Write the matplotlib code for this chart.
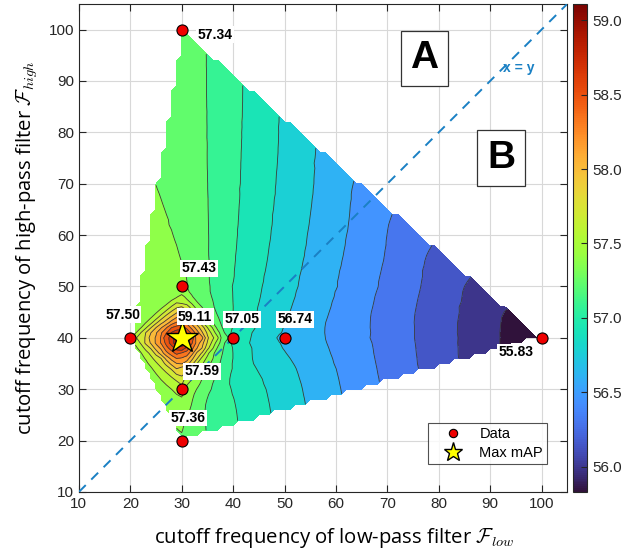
import numpy as np
import matplotlib
matplotlib.use('Agg')
import matplotlib.pyplot as plt
import matplotlib.tri as mtri
from matplotlib.lines import Line2D
from matplotlib.cm import ScalarMappable
from matplotlib.colors import Normalize

plt.rcParams['font.family'] = ['Liberation Sans', 'DejaVu Sans']
plt.rcParams['mathtext.fontset'] = 'cm'

# Data
f_low = [30, 30, 20, 30, 40, 50, 30, 30, 100]
f_high = [100, 50, 40, 40, 40, 40, 30, 20, 40]
mAP = [57.34, 57.43, 57.50, 59.11, 57.05, 56.74, 57.59, 57.36, 55.83]
value_labels = ['57.34', '57.43', '57.50', '59.11', '57.05', '56.74', '57.59', '57.36', '55.83']
label_offsets = [(3, -1, 'left'), (0, 3.5, 'left'), (-1.5, 4.5, 'center'), (2.6, 4.1, 'center'),
                 (1.8, 3.6, 'center'), (2.0, 3.6, 'center'), (0.5, 3.5, 'left'), (1.2, 4.4, 'center'),
                 (-5, -2.8, 'center')]
ticks = [10, 20, 30, 40, 50, 60, 70, 80, 90, 100]
cbar_ticks = [56.0, 56.5, 57.0, 57.5, 58.0, 58.5, 59.0]

x = np.array(f_low, float)
y = np.array(f_high, float)
z = np.array(mAP, float)


def natural_neighbour(qx, qy, px, py, pz, h=0.8, lo=-25.0, hi=155.0):
    """Discrete Sibson (natural-neighbour) interpolation of scattered data."""
    r = np.arange(lo, hi, h) + h / 2
    RX, RY = np.meshgrid(r, r)
    RX = RX.ravel()
    RY = RY.ravel()
    d2 = (RX[:, None] - px[None, :]) ** 2 + (RY[:, None] - py[None, :]) ** 2
    nearest = d2.argmin(1)
    dmin2 = d2.min(1)
    zr = pz[nearest]
    out = np.full(len(qx), np.nan)
    step = 80
    for i in range(0, len(qx), step):
        cx = qx[i:i + step, None]
        cy = qy[i:i + step, None]
        D2 = (cx - RX[None, :]) ** 2 + (cy - RY[None, :]) ** 2
        M = D2 <= dmin2[None, :]
        cnt = M.sum(1)
        out[i:i + step] = (M @ zr) / np.maximum(cnt, 1)
    return out


fig = plt.figure(figsize=(6.36, 5.54), dpi=100)
ax = fig.add_axes([0.124, 0.112, 0.768, 0.881])
cax = fig.add_axes([0.901, 0.112, 0.022, 0.881])

tri = mtri.Triangulation(x, y)
finder = tri.get_trifinder()
gx = np.linspace(x.min(), x.max(), 81)
gy = np.linspace(y.min(), y.max(), 81)
GX, GY = np.meshgrid(gx, gy)
inside = finder(GX, GY) >= 0
GZ = np.full(GX.shape, np.nan)
GZ[inside] = natural_neighbour(GX[inside], GY[inside], x, y, z)
GZ = np.ma.masked_invalid(GZ)

vmin, vmax = z.min(), z.max()
levels = np.linspace(vmin, vmax, 22)
norm = Normalize(vmin, vmax)
cmap = plt.get_cmap('turbo')
band_colors = [cmap(norm(l)) for l in levels[:-1]]
ax.contourf(GX, GY, GZ, levels=levels, colors=band_colors)
ax.contour(GX, GY, GZ, levels=levels, colors='#3a3a3a', linewidths=0.6)

ax.plot([10, 105], [10, 105], ls=(0, (5, 4)), color='#1a80c4', lw=1.4, zorder=3)
ax.text(95.6, 92.6, 'x = y', color='#1a80c4', fontsize=10, fontweight='bold', ha='center', va='center')

ax.plot(x, y, 'o', ms=8, mfc='#ee0000', mec='black', mew=0.8, zorder=5, ls='none')
imax = int(np.argmax(z))
ax.plot(x[imax], y[imax], '*', ms=24, mfc='#ffff00', mec='black', mew=1.0, zorder=6)

for xi, yi, lab, (dx, dy, ha) in zip(x, y, value_labels, label_offsets):
    ax.text(xi + dx, yi + dy, lab, fontsize=10, fontweight='bold', ha=ha, va='center',
            bbox=dict(facecolor='white', edgecolor='none', pad=1.0), zorder=7)

for lab, cx, cy in [('A', 77.2, 94.4), ('B', 92.1, 75.0)]:
    ax.text(cx, cy, lab, fontsize=28, fontweight='bold', ha='center', va='center',
            bbox=dict(facecolor='white', edgecolor='#333333', linewidth=0.9, boxstyle='square,pad=0.25'))

ax.set_xlim(10, 105)
ax.set_ylim(10, 105)
ax.set_xticks(ticks)
ax.set_yticks(ticks)
ax.tick_params(direction='in', top=True, right=True, labelsize=11, colors='#262626', length=5)
ax.grid(True, color='#d8d8d8', lw=0.8)
ax.set_axisbelow(True)
for s in ax.spines.values():
    s.set_color('#262626')

ax.set_xlabel(r'cutoff frequency of low-pass filter $\mathcal{F}_{low}$', fontsize=14.6,
              family=['Open Sans', 'DejaVu Sans'], labelpad=11)
ax.xaxis.label.set_x(0.522)
ax.set_ylabel(r'cutoff frequency of high-pass filter $\mathcal{F}_{high}$', fontsize=14.6,
              family=['Open Sans', 'DejaVu Sans'], labelpad=6)

handles = [Line2D([], [], marker='o', ls='none', ms=6, mfc='#ee0000', mec='black', mew=0.8),
           Line2D([], [], marker='*', ls='none', ms=14, mfc='#ffff00', mec='black', mew=1.0)]
leg = ax.legend(handles, ['Data', 'Max mAP'], loc='lower right', bbox_to_anchor=(0.959, 0.057),
                borderaxespad=0, fontsize=10.5, frameon=True, fancybox=False, edgecolor='#262626',
                handletextpad=0.4, borderpad=0.3, labelspacing=0.3, handlelength=2.8)
leg.get_frame().set_linewidth(0.8)

sm = ScalarMappable(norm=norm, cmap=cmap)
cb = fig.colorbar(sm, cax=cax, ticks=cbar_ticks)
cb.ax.set_yticklabels(['%.1f' % t for t in cbar_ticks])
cb.ax.tick_params(labelsize=11, colors='#262626', direction='in', length=4)
cb.outline.set_edgecolor('#262626')

fig.savefig('out.png', dpi=100)
